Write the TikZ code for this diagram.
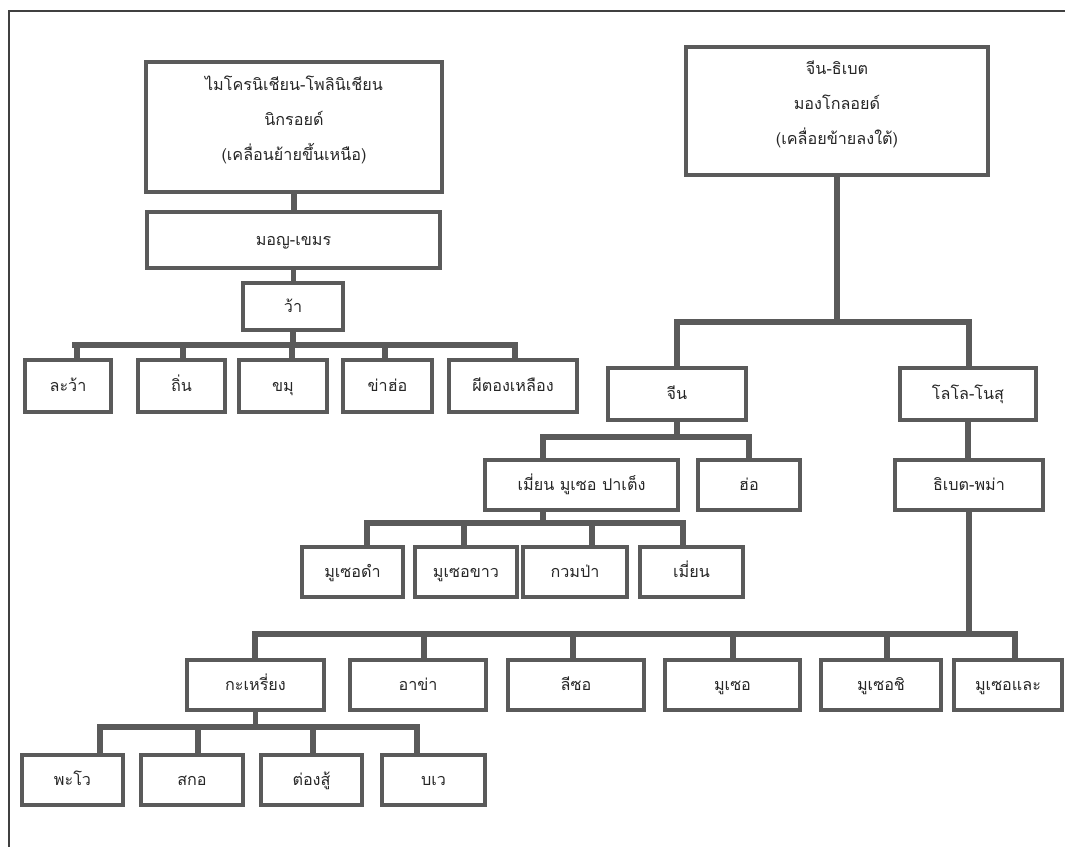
\documentclass[tikz,border=0pt]{standalone}
\usepackage{fontspec}
\newfontfamily\thaifont[Script=Thai]{Loma}
\usetikzlibrary{fit}
\definecolor{lngray}{HTML}{5A5A5A}
\newcommand{\pxu}{0.025cm}
\tikzset{
  box/.style={draw=lngray, line width=2.2pt, inner sep=0pt, text=black!85,
    font=\thaifont\fontsize{11.5}{25}\selectfont},
  topbox/.style={box, align=center},
  leaf/.style={box, text height=0.8em, text depth=0pt},
  busline/.style={draw=lngray, line width=4.6pt, line cap=rect},
  dropline/.style={draw=lngray, line width=3.6pt},
}
\begin{document}
\begin{tikzpicture}[x=\pxu, y=-\pxu]
    \useasboundingbox (0,0) rectangle (1065,847);
    % moldura da pagina
    \draw[black!75, line width=1.2pt] (1065,11) -- (9,11) -- (9,847);

    % ramo da esquerda
    \node[topbox, fit={(146,62) (442,192)}] (micro) {ไมโครนิเชียน-โพลินิเชียน\\นิกรอยด์\\(เคลื่อนย้ายขึ้นเหนือ)};
    \node[leaf, minimum width=293*\pxu, minimum height=56*\pxu] (monkhmer) at (293.5,240) {มอญ-เขมร};
    \node[leaf, minimum width=100*\pxu, minimum height=47*\pxu] (wa) at (293,306.5) {ว้า};
    \draw[dropline] (micro.south) -- (micro.south |- monkhmer.north);
    \draw[dropline] (monkhmer.south) -- (monkhmer.south |- wa.north);
    \coordinate (waL) at (75,345);
    \coordinate (waR) at (515,345);
    \draw[busline] (waL) -- (waR);
    \draw[dropline] (wa.south) -- (wa.south |- waL);
    \foreach \xa/\xb/\xd/\name [count=\i] in {25/111/77/{ละว้า}, 138/225/183/{ถิ่น}, 239/327/292/{ขมุ}, 343/432/385/{ข่าฮ่อ}, 449/577/515/{ผีตองเหลือง}} {
        \node[leaf, minimum width={(\xb-\xa)*\pxu}, minimum height=52*\pxu] (wa\i) at ({(\xa+\xb)/2},386) {\name};
        \coordinate (waD\i) at (\xd,345);
        \draw[dropline] (waD\i) -- (waD\i |- wa\i.north);
    }

    % ramo da direita
    \node[topbox, fit={(686,47) (988,175)}] (sino) {จีน-ธิเบต\\มองโกลอยด์\\(เคลื่อยข้ายลงใต้)};
    \coordinate (snL) at (677,322);
    \coordinate (snR) at (969,322);
    \draw[dropline] (sino.south) -- (sino.south |- snL);
    \draw[busline] (snL) -- (snR);
    \node[leaf, minimum width=138*\pxu, minimum height=52*\pxu] (chin) at (677,394) {จีน};
    \node[leaf, minimum width=136*\pxu, minimum height=52*\pxu] (lolo) at (968,394) {โลโล-โนสุ};
    \draw[dropline] (snL) -- (snL |- chin.north);
    \draw[dropline] (snR) -- (snR |- lolo.north);

    \node[leaf, minimum width=193*\pxu, minimum height=50*\pxu] (mien) at (581.5,485) {เมี่ยน มูเซอ ปาเต็ง};
    \node[leaf, minimum width=102*\pxu, minimum height=50*\pxu] (ho) at (749,485) {ฮ่อ};
    \node[leaf, minimum width=148*\pxu, minimum height=50*\pxu] (tibet) at (969,485) {ธิเบต-พม่า};
    \coordinate (chL) at (543,437);
    \coordinate (chR) at (749,437);
    \draw[dropline] (chin.south) -- (chin.south |- chL);
    \draw[busline] (chL) -- (chR);
    \draw[dropline] (chL) -- (chL |- mien.north);
    \draw[dropline] (chR) -- (chR |- ho.north);
    \draw[dropline] (lolo.south) -- (lolo.south |- tibet.north);

    % filhos de mien
    \coordinate (mnL) at (367,523);
    \coordinate (mnR) at (683,523);
    \coordinate (mnT) at (543,523);
    \draw[dropline] (mnT |- mien.south) -- (mnT);
    \draw[busline] (mnL) -- (mnR);
    \foreach \xa/\xb/\xd/\name [count=\i] in {302/403/367/{มูเซอดำ}, 415/517/464/{มูเซอขาว}, 523/627/592/{กวมป่า}, 640/743/683/{เมี่ยน}} {
        \node[leaf, minimum width={(\xb-\xa)*\pxu}, minimum height=50*\pxu] (mn\i) at ({(\xa+\xb)/2},572) {\name};
        \coordinate (mnD\i) at (\xd,523);
        \draw[dropline] (mnD\i) -- (mnD\i |- mn\i.north);
    }

    % filhos de tibet
    \coordinate (tbL) at (255,634);
    \coordinate (tbR) at (1015,634);
    \draw[dropline] (tibet.south) -- (tibet.south |- tbL);
    \draw[busline] (tbL) -- (tbR);
    \foreach \xa/\xb/\xd/\name [count=\i] in {187/324/255/{กะเหรี่ยง}, 350/486/424/{อาข่า}, 508/644/573/{ลีซอ}, 665/800/733/{มูเซอ}, 821/941/887/{มูเซอชิ}, 954/1062/1015/{มูเซอและ}} {
        \node[leaf, minimum width={(\xb-\xa)*\pxu}, minimum height=50*\pxu] (tb\i) at ({(\xa+\xb)/2},685) {\name};
        \coordinate (tbD\i) at (\xd,634);
        \draw[dropline] (tbD\i) -- (tbD\i |- tb\i.north);
    }

    % filhos de karen
    \coordinate (krL) at (100,727);
    \coordinate (krR) at (417,727);
    \draw[dropline] (tb1.south) -- (tb1.south |- krL);
    \draw[busline] (krL) -- (krR);
    \foreach \xa/\xb/\xd/\name [count=\i] in {22/123/100/{พะโว}, 141/243/198/{สกอ}, 261/362/313/{ต่องสู้}, 382/485/417/{บเว}} {
        \node[leaf, minimum width={(\xb-\xa)*\pxu}, minimum height=50*\pxu] (kr\i) at ({(\xa+\xb)/2},780) {\name};
        \coordinate (krD\i) at (\xd,727);
        \draw[dropline] (krD\i) -- (krD\i |- kr\i.north);
    }
\end{tikzpicture}
\end{document}
